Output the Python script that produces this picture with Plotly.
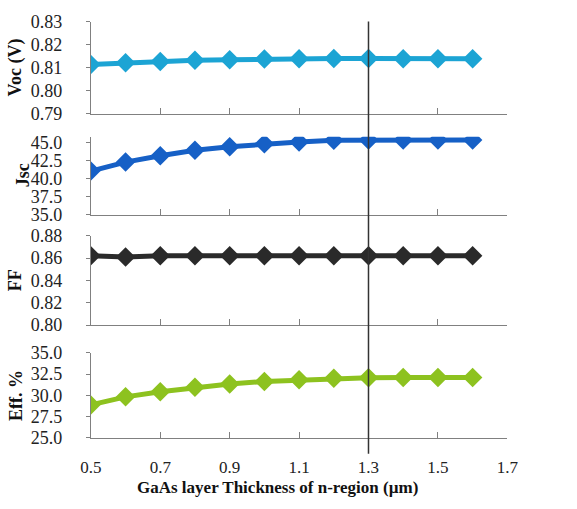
import plotly.graph_objects as go

W, H = 577, 509

thickness = [0.5, 0.6, 0.7, 0.8, 0.9, 1.0, 1.1, 1.2, 1.3, 1.4, 1.5, 1.6]
voc = [0.8114, 0.8121, 0.8127, 0.8132, 0.8134, 0.8137, 0.8139, 0.8140, 0.8140, 0.8139, 0.8139, 0.8139]
jsc = [41.04, 42.29, 43.17, 43.93, 44.43, 44.83, 45.09, 45.31, 45.36, 45.36, 45.36, 45.36]
ff = [0.862, 0.861, 0.862, 0.862, 0.862, 0.862, 0.862, 0.862, 0.862, 0.862, 0.862, 0.862]
eff = [28.86, 29.81, 30.42, 30.94, 31.33, 31.63, 31.82, 32.01, 32.08, 32.10, 32.10, 32.10]

x_ticks = [0.5, 0.7, 0.9, 1.1, 1.3, 1.5, 1.7]
marked_thickness = 1.3

series = [
    ("Voc (V)", voc, "#1ca4d4", [0.79, 0.83], [0.79, 0.80, 0.81, 0.82, 0.83], ".2f", (12, 108), 15),
    ("Jsc", jsc, "#1660c6", [35.0, 45.8], [35.0, 37.5, 40.0, 42.5, 45.0], ".1f", (132, 213), 22),
    ("FF", ff, "#2a2a2a", [0.80, 0.88], [0.80, 0.82, 0.84, 0.86, 0.88], ".2f", (235, 328), 15),
    ("Eff. %", eff, "#8dc21f", [25.0, 35.0], [25.0, 27.5, 30.0, 32.5, 35.0], ".1f", (357, 445), 15),
]

fig = go.Figure()
font_family = "Liberation Serif"
x0_px, x1_px = 83, 516
tick_font = dict(family=font_family, size=18, color="#222")

annotations = []
for i, (name, vals, color, yr, yt, fmt, (top, bot), title_x) in enumerate(series):
    idx = "" if i == 0 else str(i + 1)
    fig.add_trace(go.Scatter(
        x=thickness, y=vals, mode="lines+markers",
        line=dict(color=color, width=5),
        marker=dict(symbol="diamond", size=15, color=color),
        xaxis="x" + idx, yaxis="y" + idx, showlegend=False,
    ))
    last = (i == 3)
    fig.update_layout(**{
        "xaxis" + idx: dict(
            domain=[x0_px / W, x1_px / W], range=[0.5, 1.7],
            tickvals=x_ticks, ticktext=[f"{v:.1f}" for v in x_ticks],
            showticklabels=last, ticks="inside", ticklen=6,
            tickcolor="#808080", showline=True, linecolor="#808080", linewidth=1,
            showgrid=False, zeroline=False, anchor="y" + idx,
            tickfont=dict(family=font_family, size=17, color="#222"), ticklabelstandoff=14,
            matches=None if i == 0 else "x",
        ),
        "yaxis" + idx: dict(
            domain=[1 - bot / H, 1 - top / H], range=yr,
            tickvals=yt, tickformat=fmt, ticks="outside", ticklen=4,
            tickcolor="#808080", showline=True, linecolor="#808080", linewidth=1,
            showgrid=False, zeroline=False, anchor="x" + idx,
            tickfont=tick_font, ticklabelstandoff=20,
        ),
    })
    annotations.append(dict(
        text=f"<b>{name}</b>", textangle=-90, xref="paper", yref="paper",
        x=(title_x - 10) / W, y=1 - ((top + bot) / 2) / H, showarrow=False,
        xanchor="center", yanchor="middle",
        font=dict(family=font_family, size=18, color="#111"),
    ))

annotations.append(dict(
    text="<b>GaAs layer Thickness of n-region (\u00b5m)</b>", xref="paper", yref="paper",
    x=277 / W, y=1 - 497 / H, showarrow=False,
    xanchor="center", yanchor="middle",
    font=dict(family=font_family, size=17, color="#111"),
))

fig.add_shape(type="line", xref="x", yref="paper", x0=marked_thickness, x1=marked_thickness,
              y0=1 - 462 / H, y1=1 - 12 / H, line=dict(color="#333333", width=1.5))

fig.update_layout(
    width=W, height=H, margin=dict(l=0, r=0, t=0, b=0),
    paper_bgcolor="white", plot_bgcolor="white",
    annotations=annotations,
)

fig.write_html("out.html")
